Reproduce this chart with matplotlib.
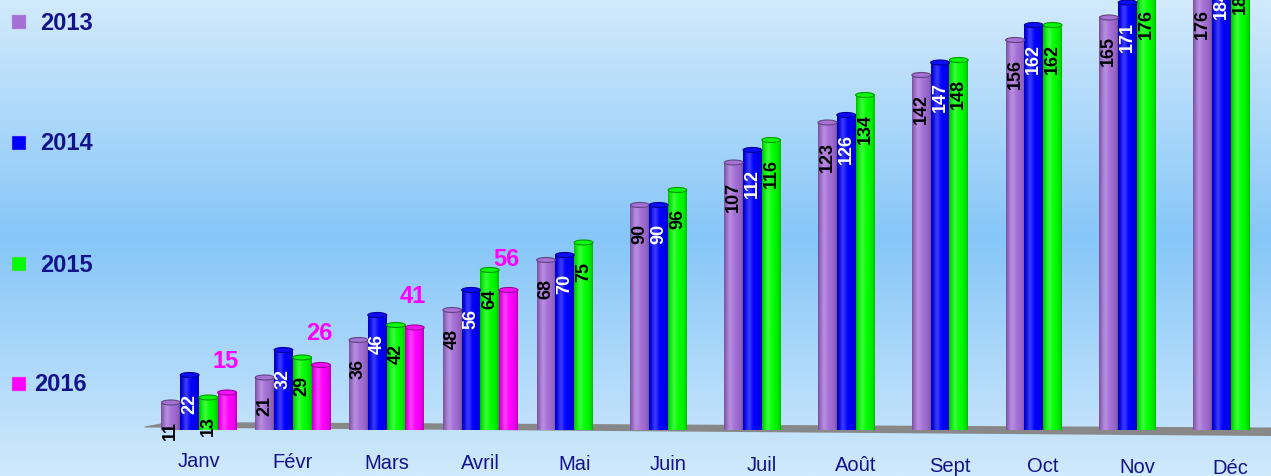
import matplotlib
matplotlib.use("Agg")
import matplotlib.pyplot as plt
import numpy as np
from matplotlib.colors import to_rgb
from matplotlib.patches import Ellipse, Polygon, Rectangle

plt.rcParams['font.family'] = ['Liberation Sans', 'DejaVu Sans']

# données
mois = ["Janv", "Févr", "Mars", "Avril", "Mai", "Juin",
        "Juil", "Août", "Sept", "Oct", "Nov", "Déc"]
annees = ["2013", "2014", "2015", "2016"]
v2013 = [11, 21, 36, 48, 68, 90, 107, 123, 142, 156, 165, 176]
v2014 = [22, 32, 46, 56, 70, 90, 112, 126, 147, 162, 171, 184]
v2015 = [13, 29, 42, 64, 75, 96, 116, 134, 148, 162, 176, 186]
v2016 = [15, 26, 41, 56]
series = [v2013, v2014, v2015, v2016]
couleurs = ["#a56fd8", "#0000ff", "#00ff00", "#ff00ff"]
couleurs_txt = ["black", "white", "black", None]

NAVY = "#14148a"
W, H = 1271, 477
fig = plt.figure(figsize=(W / 100, H / 100), dpi=100)

# fond dégradé
bg = fig.add_axes([0, 0, 1, 1], zorder=-1)
bg.axis("off")
yy = np.linspace(0, 1, 256)
top = np.array(to_rgb("#d2eafc"))
mid = np.array(to_rgb("#86c6f8"))
bot = np.array(to_rgb("#d0e9fc"))
grad = np.zeros((256, 1, 3))
for i, t in enumerate(yy):
    if t < 0.5:
        a = t / 0.5
        grad[i, 0] = top * (1 - a) + mid * a
    else:
        a = (t - 0.5) / 0.5
        grad[i, 0] = mid * (1 - a) + bot * a
bg.imshow(grad, aspect="auto", extent=[0, 1, 0, 1])
bg.set_xlim(0, 1)
bg.set_ylim(0, 1)

ax = fig.add_axes([0, 0, 1, 1])
ax.patch.set_alpha(0)
ax.axis("off")

bw = 0.2
px_x = 93.8   # pixels par mois
px_y = 2.5    # pixels par unité
x0 = 199.0    # centre du groupe Janv en pixels
base_px = 431.0
xmin, xmax = -x0 / px_x, (W - x0) / px_x
ymin, ymax = -(H - base_px) / px_y, base_px / px_y

# plancher gris
floor = Polygon([(-0.58, 1.4), (-0.32, 3.2), (xmax, 1.0), (xmax, -2.4), (-0.58, 1.0)],
                closed=True, facecolor="#888888", edgecolor="none", zorder=1)
ax.add_patch(floor)


def shade(base, n=64):
    base = np.array(to_rgb(base))
    t = np.linspace(0, 1, n)
    d = 0.70 + 0.30 * np.sin(np.pi * t) ** 0.5
    h = 0.22 * np.exp(-((t - 0.32) / 0.16) ** 2)
    c = base[None, :] * d[:, None]
    c = c + (1 - c) * h[:, None]
    return np.clip(c, 0, 1)[None, :, :]


x = np.arange(len(mois))
ell_h = 5.0 / px_y
for j, vals in enumerate(series):
    pos = x[:len(vals)] + (j - 1.5) * bw
    bars = ax.bar(pos, vals, width=bw, color=couleurs[j], zorder=2 + j * 0.01)
    for b, v in zip(bars, vals):
        bx, bwid, bh = b.get_x(), b.get_width(), b.get_height()
        im = ax.imshow(shade(couleurs[j]), aspect="auto",
                       extent=[bx, bx + bwid, 0, bh], zorder=2 + j * 0.01)
        im.set_clip_path(b)
        cap_col = np.array(to_rgb(couleurs[j]))
        cap = Ellipse((bx + bwid / 2, bh), bwid, ell_h,
                      facecolor=np.clip(cap_col * 0.92 + 0.05, 0, 1),
                      edgecolor=cap_col * 0.6, lw=0.8, zorder=2.05 + j * 0.01)
        ax.add_patch(cap)
        if couleurs_txt[j] is not None:
            ax.annotate(str(v), (bx + bwid / 2, bh), xytext=(0, -18),
                        textcoords="offset pixels", rotation=90,
                        ha="center", va="top", fontsize=13, fontweight="bold",
                        color=couleurs_txt[j], zorder=5, annotation_clip=False)
        else:
            ax.annotate(str(v), (bx + bwid / 2, bh), xytext=(-2, 32),
                        textcoords="offset pixels", ha="center", va="center",
                        fontsize=17, fontweight="bold", color=couleurs[j],
                        zorder=5, annotation_clip=False)

# étiquettes des mois
for i, m in enumerate(mois):
    ax.text(i, -12.4 - 0.22 * i, m, ha="center", va="center",
            fontsize=14.5, color=NAVY, zorder=5)

ax.set_xlim(xmin, xmax)
ax.set_ylim(ymin, ymax)

# légende
leg_y = [23, 144, 265, 385]
leg_tx = [40, 40, 40, 34]
for j, a in enumerate(annees):
    yf = 1 - leg_y[j] / H
    fig.add_artist(Rectangle((12 / W, yf - 7 / H), 14 / W, 14 / H,
                             transform=fig.transFigure, facecolor=couleurs[j],
                             edgecolor="#c0a0e0", lw=0.3))
    fig.text(leg_tx[j] / W, yf, a, ha="left", va="center", fontsize=17,
             fontweight="bold", color=NAVY)

fig.savefig("out.png", dpi=100)
